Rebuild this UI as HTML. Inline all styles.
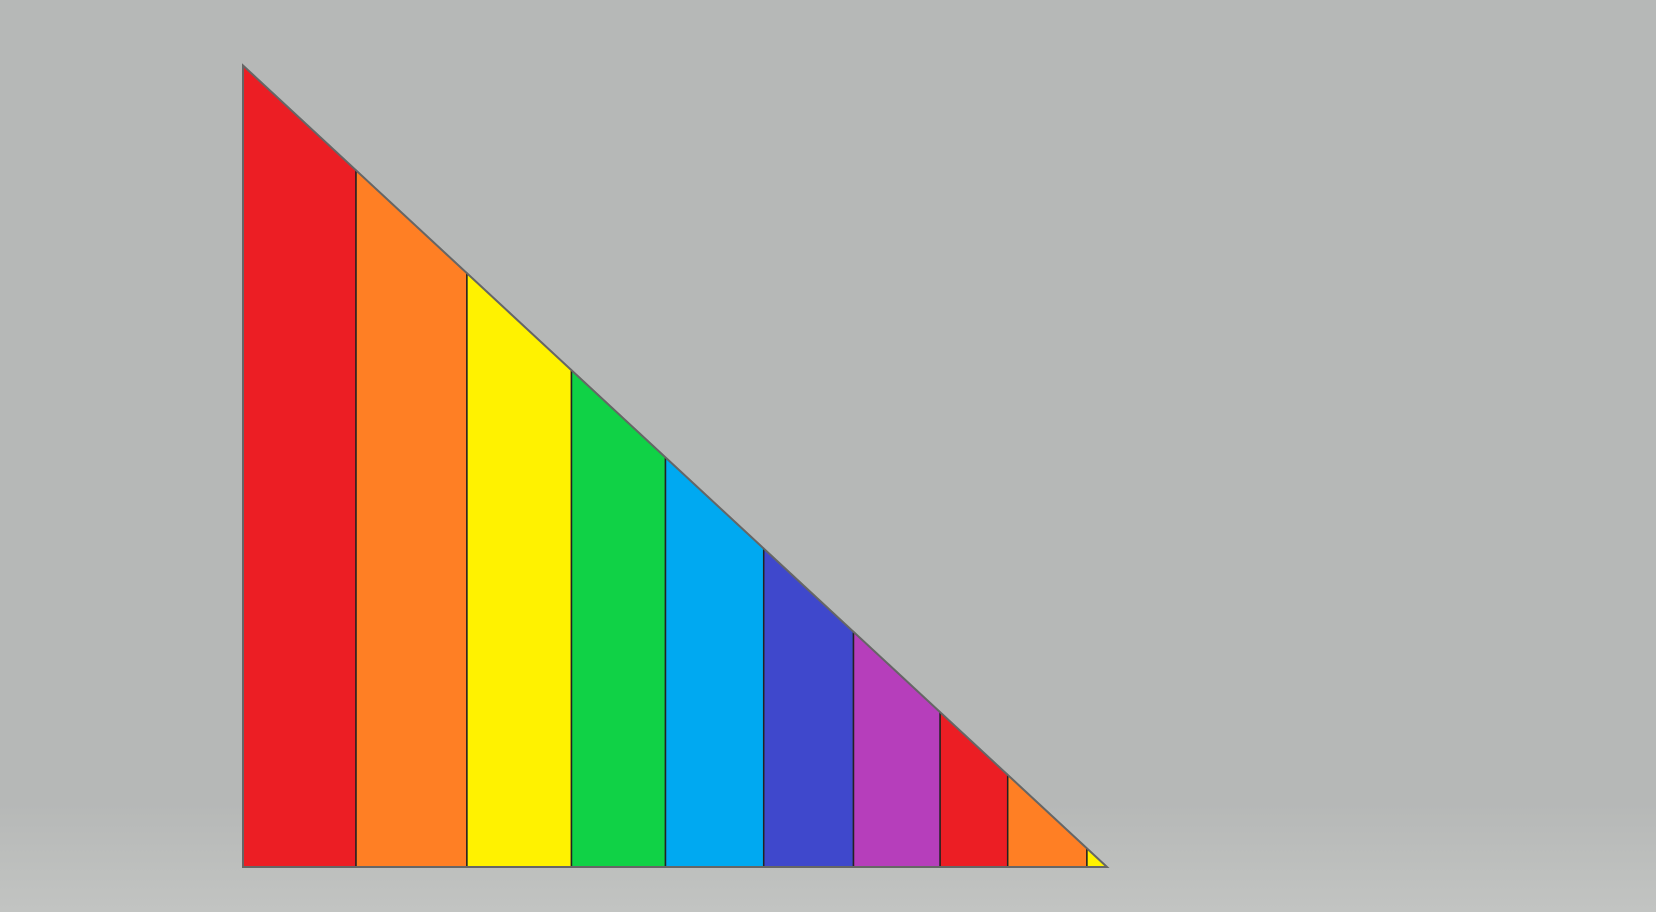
<!DOCTYPE html>
<html><head><meta charset="utf-8"><style>
html,body{margin:0;padding:0;width:1656px;height:912px;overflow:hidden;background:#b6b8b7;font-family:"Liberation Sans",sans-serif}
#bg{position:absolute;left:0;top:0;width:1656px;height:912px;background:linear-gradient(#b6b8b7 0%,#b6b8b7 88%,#c2c4c2 100%)}
svg{position:absolute;left:0;top:0}
</style></head><body>
<div id="bg"></div>
<svg id="chart" width="1656" height="912"></svg>
<script>
const categories=["s1","s2","s3","s4","s5","s6","s7","s8","s9","s10"];
const widths=[107,105,99,89,93,85,82,64,75,19];
const colors=["#ec1e24","#ff7f24","#fff200","#10d246","#00a9f1","#3f48cc","#b63ebb","#ec1e24","#ff7f24","#fff200"];
const X0=243,Y0=65.5,YB=867,XR=1107;
const total=widths.reduce((a,b)=>a+b,0);
const xs=v=>X0+v/total*(XR-X0);
const yAt=x=>Y0+(x-X0)/(XR-X0)*(YB-Y0);
const NS="http://www.w3.org/2000/svg";
const svg=document.getElementById('chart');
let cum=0;
widths.forEach((w,i)=>{
  const a=xs(cum),b=xs(cum+w);cum+=w;
  const p=document.createElementNS(NS,'polygon');
  p.setAttribute('points',`${a},${yAt(a)} ${b},${yAt(b)} ${b},${YB} ${a},${YB}`);
  p.setAttribute('fill',colors[i]);
  p.setAttribute('stroke','#222');
  p.setAttribute('stroke-width','1.5');
  
  
  svg.appendChild(p);
});
const o=document.createElementNS(NS,'polygon');
o.setAttribute('points',`${X0},${Y0} ${XR},${YB} ${X0},${YB}`);
o.setAttribute('fill','none');
o.setAttribute('stroke','#666');
o.setAttribute('stroke-width','2');


svg.appendChild(o);
</script>
</body></html>
